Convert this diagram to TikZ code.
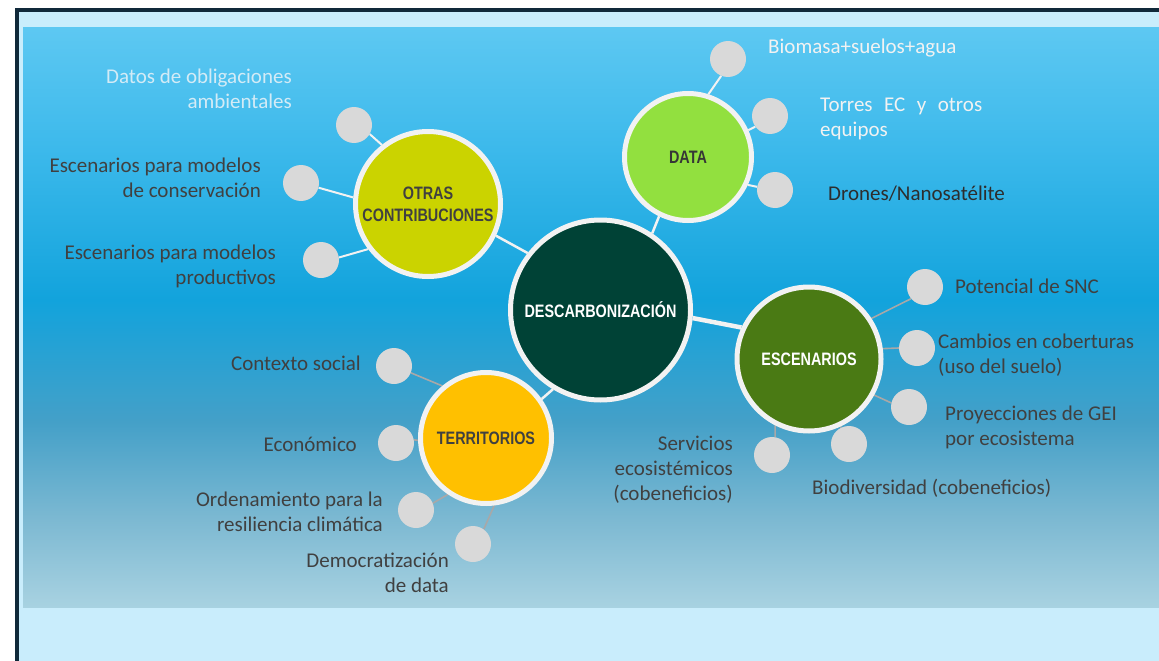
\documentclass[tikz,border=0pt]{standalone}
\usepackage{fontspec}
\setmainfont{Carlito}
\newfontfamily\hdfont[FakeStretch=0.8,BoldFeatures={FakeStretch=0.8}]{Liberation Sans}
\pgfdeclarelayer{bg}
\pgfdeclarelayer{edges}
\pgfsetlayers{bg,edges,main}
\definecolor{frameline}{HTML}{10293A}
\definecolor{lightback}{HTML}{C9EDFC}
\definecolor{ptop}{HTML}{5DC8F2}
\definecolor{ptwo}{HTML}{3CB9EB}
\definecolor{pthree}{HTML}{12A3DC}
\definecolor{pfour}{HTML}{44A0C8}
\definecolor{pfive}{HTML}{7DB9D2}
\definecolor{pbot}{HTML}{A8D2E1}
\definecolor{ringc}{HTML}{F2F2F2}
\definecolor{dotc}{HTML}{D9D9D9}
\definecolor{labgrey}{HTML}{404040}
\definecolor{lightlab}{HTML}{D3EBF6}
\definecolor{greyline}{HTML}{A8A8A8}
\definecolor{cdark}{HTML}{004236}
\definecolor{cotras}{HTML}{CBD300}
\definecolor{cdata}{HTML}{92E03F}
\definecolor{cesc}{HTML}{4A7A14}
\definecolor{cterr}{HTML}{FFC000}
\pgfdeclareverticalshading{panelshade}{100bp}{color(0bp)=(pbot); color(25bp)=(pbot); color(32.5bp)=(pfive); color(41bp)=(pfour); color(51.5bp)=(pthree); color(64.5bp)=(ptwo); color(75bp)=(ptop); color(100bp)=(ptop)}
\tikzset{
  big/.style={circle, draw=ringc, line width=5pt, inner sep=0pt, font=\hdfont\bfseries\fontsize{18}{22}\selectfont, align=center},
  dot/.style={circle, fill=dotc, minimum size=36pt, inner sep=0pt},
  wline/.style={draw=ringc, line width=2pt},
  gline/.style={draw=greyline, line width=1.6pt},
  lab/.style={font=\fontsize{21}{25}\selectfont, text=labgrey, inner sep=0pt},
  labr/.style={lab, anchor=east, align=right},
  labl/.style={lab, anchor=west, align=left}
}
\begin{document}
\begin{tikzpicture}[x=1pt,y=-1pt]
\useasboundingbox (0,0) rectangle (1159,661);
\begin{pgfonlayer}{bg}
  \fill[frameline] (15,8) rectangle (1159,661);
  \fill[lightback] (19,12) rectangle (1159,661);
  \shade[shading=panelshade] (23,28) rectangle (1159,607);
\end{pgfonlayer}

% main circles
\node[big, fill=cdark, text=white, minimum size=180pt] (c) at (600.5,310) {DESCARBONIZACIÓN};
\node[big, fill=cotras, text=labgrey, minimum size=145pt] (otras) at (428,204) {OTRAS\\CONTRIBUCIONES};
\node[big, fill=cdata, text=labgrey!85!black, minimum size=127pt] (data) at (688,157) {DATA};
\node[big, fill=cesc, text=white, minimum size=144pt] (esc) at (809,359) {ESCENARIOS};
\node[big, fill=cterr, text=labgrey, minimum size=131pt] (terr) at (486,438) {TERRITORIOS};

% small circles
\node[dot] (o1) at (354,125) {};
\node[dot] (o2) at (301,183) {};
\node[dot] (o3) at (321,260) {};
\node[dot] (d1) at (728,59) {};
\node[dot] (d2) at (770,116) {};
\node[dot] (d3) at (775,190) {};
\node[dot] (e1) at (925,287) {};
\node[dot] (e2) at (917,348) {};
\node[dot] (e3) at (909,407) {};
\node[dot] (e4) at (849,444) {};
\node[dot] (e5) at (772,455) {};
\node[dot] (t1) at (394,366) {};
\node[dot] (t2) at (396,443) {};
\node[dot] (t3) at (416,510) {};
\node[dot] (t4) at (473,544) {};

% connectors
\begin{pgfonlayer}{edges}
  \draw[wline] (o1.-30) -- (otras.128);
  \draw[wline] (o2.-15) -- (otras.175);
  \draw[wline] (o3.8) -- (otras.217);
  \draw[wline, line width=2.5pt] (otras.-25) -- (c.142);
  \draw[wline] (d1.-112) -- (data.72);
  \draw[wline] (d2.216) -- (data.24);
  \draw[wline] (d3.170) -- (data.-25);
  \draw[wline, line width=2.5pt] (data.244) -- (c.56);
  \draw[wline, line width=4.5pt] (c.-5) -- (esc.155);
  \draw[gline] (e1.220) -- (esc.33);
  \draw[gline] (e2.180) -- (esc.8);
  \draw[gline] (e3.167) -- (esc.-29);
  \draw[gline] (e4.115) -- (esc.-65);
  \draw[gline] (e5.80) -- (esc.243);
  \draw[wline, line width=2.5pt] (terr.35) -- (c.239);
  \draw[gline] (t1.-22) -- (terr.130);
  \draw[gline] (t2.10) -- (terr.182);
  \draw[gline] (t3.22) -- (terr.236);
  \draw[gline] (t4.54) -- (terr.-83);
\end{pgfonlayer}

% labels
\node[labr, text=lightlab] (lo1) at (292,89) {Datos de obligaciones\\ambientales};
\node[labr] (lo2) at (261,177.5) {Escenarios para modelos\\de conservación};
\node[labr] (lo3) at (276,266.5) {Escenarios para modelos\\productivos};
\node[labl, text=ringc] (ld1) at (768,48) {Biomasa+suelos+agua};
\node[labl, text=ringc] (ld2) at (820,118.5) {\makebox[162pt][s]{Torres EC y otros}\\equipos};
\node[labl, text=labgrey!70!black] (ld3) at (828,194) {Drones/Nanosatélite};
\node[labl] (le1) at (955,286) {Potencial de SNC};
\node[labl] (le2) at (938,355.5) {Cambios en coberturas\\(uso del suelo)};
\node[labl] (le3) at (945,427.5) {Proyecciones de GEI\\por ecosistema};
\node[labl] (le4) at (812,488) {Biodiversidad (cobeneficios)};
\node[labr] (le5) at (733,469.5) {Servicios\\ecosistémicos\\(cobeneficios)};
\node[labr] (lt1) at (361,363) {Contexto social};
\node[labr] (lt2) at (357,444) {Económico};
\node[labr] (lt3) at (383,511.5) {Ordenamiento para la\\resiliencia climática};
\node[labr] (lt4) at (449,572.5) {Democratización\\de data};
\end{tikzpicture}
\end{document}
